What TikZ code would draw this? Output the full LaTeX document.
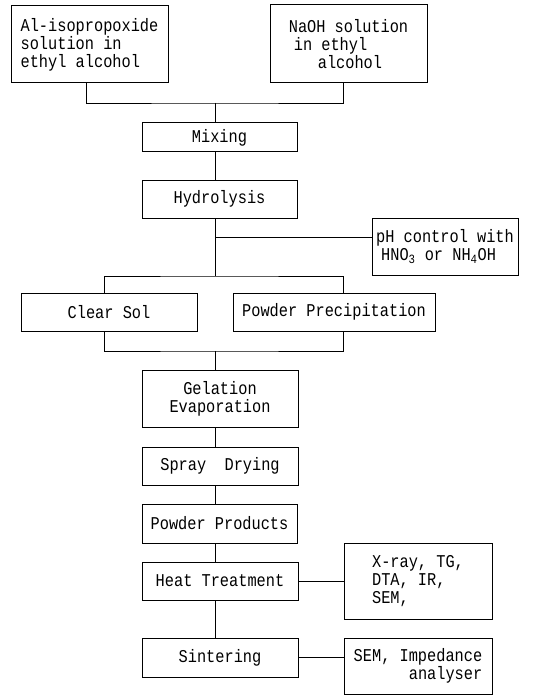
\documentclass[tikz,border=0pt]{standalone}
\usepackage{fontspec}
\newfontfamily\monof[FakeStretch=0.85]{Liberation Mono}
\begin{document}
\begin{tikzpicture}[x=1pt,y=-1pt,
  box/.style={draw, line width=1pt, inner sep=0pt, align=center,
    font={\monof\fontsize{18}{18}\selectfont}},
  link/.style={line width=0.9pt}]
\useasboundingbox[fill=white] (0,0) rectangle (545,695);
\node[box, align=left, minimum width=157pt, minimum height=77pt] (al) at (89.5,44.5)
  {Al-isopropoxide\\solution in\\ethyl alcohol};
\node[box, align=left, minimum width=157pt, minimum height=78pt] (naoh) at (348.5,44)
  {NaOH solution\\\hspace{5pt}in ethyl\\\hspace{29pt}alcohol};
\node[box, minimum width=155pt, minimum height=29pt] (mix) at (219.5,137.5) {Mixing};
\node[box, minimum width=155pt, minimum height=38pt] (hyd) at (219.5,199) {Hydrolysis};
\node[box, align=left, minimum width=146pt, minimum height=57pt] (ph) at (445,246.5)
  {pH control with\\\hspace{5pt}HNO\textsubscript{3} or NH\textsubscript{4}OH};
\node[box, minimum width=176pt, minimum height=38pt] (cs) at (109,312) {Clear Sol};
\node[box, minimum width=202pt, minimum height=38pt] (pp) at (334,312) {Powder Precipitation};
\node[box, minimum width=156pt, minimum height=57pt] (gel) at (220,398.5) {Gelation\\Evaporation};
\node[box, minimum width=156pt, minimum height=38pt] (spray) at (220,466) {Spray\ \ Drying};
\node[box, minimum width=155pt, minimum height=39pt] (pprod) at (219.5,523.5) {Powder Products};
\node[box, minimum width=156pt, minimum height=38pt] (heat) at (220,581) {Heat Treatment};
\node[box, align=left, minimum width=148pt, minimum height=76pt] (xray) at (418,581)
  {X-ray, TG,\\DTA, IR,\\SEM,};
\node[box, minimum width=156pt, minimum height=39pt] (sint) at (220,657.5) {Sintering};
\node[box, align=right, minimum width=148pt, minimum height=56pt] (sem) at (418,666)
  {SEM, Impedance\\analyser};
% junctions
\coordinate (j1) at (215,103);
\coordinate (hj) at (215,237);
\coordinate (j2) at (215,276);
\coordinate (j3) at (215,351);
\coordinate (csx) at (104,0);
\coordinate (ppx) at (343,0);
\draw[link] (al.south -| 86,0) |- (j1) -| (naoh.south -| ppx);
\draw[link] (j1) -- (j1 |- mix.north);
\draw[link] (mix.south -| j1) -- (hyd.north -| j1);
\draw[link] (hyd.south -| j1) -- (j2);
\draw[link] (hj) -- (hj -| ph.west);
\draw[link] (cs.north -| csx) |- (j2) -| (pp.north -| ppx);
\draw[link] (cs.south -| csx) |- (j3) -| (pp.south -| ppx);
\draw[link] (j3) -- (j3 |- gel.north);
\draw[link] (gel.south -| j1) -- (spray.north -| j1);
\draw[link] (spray.south -| j1) -- (pprod.north -| j1);
\draw[link] (pprod.south -| j1) -- (heat.north -| j1);
\draw[link] (heat.south -| j1) -- (sint.north -| j1);
\draw[link] (heat.east) -- (heat.east -| xray.west);
\draw[link] (sint.east) -- (sint.east -| sem.west);
\end{tikzpicture}
\end{document}
